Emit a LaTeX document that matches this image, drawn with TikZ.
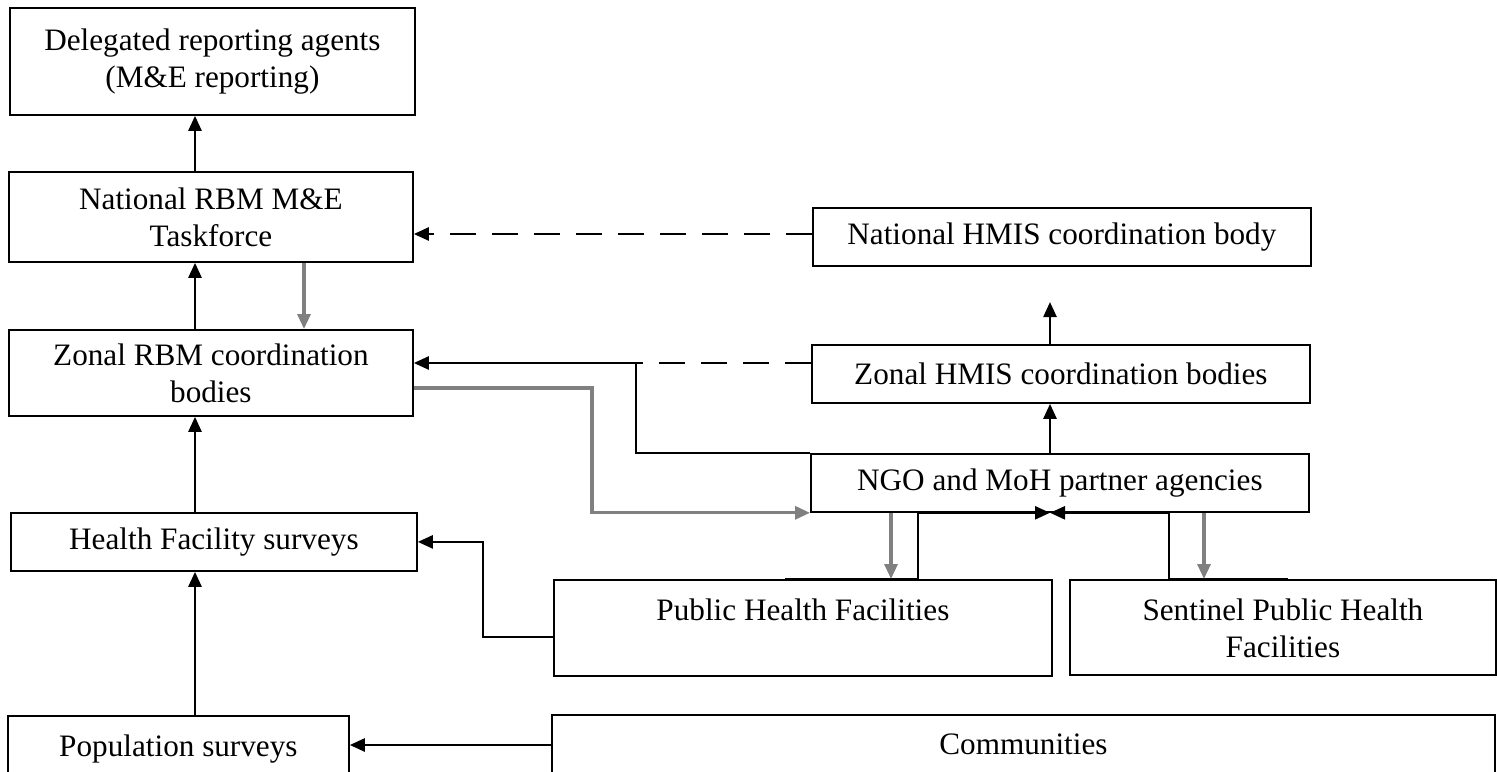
\documentclass[tikz,border=0pt]{standalone}
\usepackage{fontspec}
\setmainfont{Liberation Serif}
\usetikzlibrary{arrows.meta}
\definecolor{grayc}{RGB}{128,128,128}
\begin{document}
\begin{tikzpicture}[x=0.5pt,y=-0.5pt,
  box/.style={draw, line width=0.9pt, inner sep=0pt, anchor=north west, align=center,
    font=\fontsize{15.6}{18.5}\selectfont},
  toptext/.style={anchor=north, inner sep=0pt, align=center,
    font=\fontsize{15.6}{18.5}\selectfont, yshift=-9.8pt},
  arr/.style={line width=1.25pt, -{Triangle[length=7.5pt,width=6.5pt]}},
  garr/.style={line width=1.6pt, draw=grayc, -{Triangle[length=7.5pt,width=6.5pt,fill=grayc]}},
  dsh/.style={line width=1.25pt, dash pattern=on 13pt off 8pt},
]
\useasboundingbox (0,0) rectangle (1497,771);
\clip (0,0) rectangle (1497,771);

% boxes
\node[box, minimum width=202.5pt, minimum height=53.5pt] (del) at (9,7)
  {Delegated reporting agents\\(M\&E reporting)};
\node[box, minimum width=202pt, minimum height=45pt] (nrbm) at (8,171)
  {National RBM M\&E\\Taskforce};
\node[box, minimum width=202pt, minimum height=43pt] (zrbm) at (8,329)
  {Zonal RBM coordination\\bodies};
\node[box, minimum width=203pt, minimum height=29pt] (hfs) at (10,512)
  {Health Facility surveys};
\node[box, minimum width=170.5pt, minimum height=50pt,
  label={[toptext]north:Population surveys}] (pop) at (7,715) {};
\node[box, minimum width=249pt, minimum height=29pt] (nhmis) at (812,207)
  {National HMIS coordination body};
\node[box, minimum width=249pt, minimum height=29pt] (zhmis) at (811,344)
  {Zonal HMIS coordination bodies};
\node[box, minimum width=249pt, minimum height=29pt] (ngo) at (810,453)
  {NGO and MoH partner agencies};
\node[box, minimum width=249pt, minimum height=48pt,
  label={[toptext]north:Public Health Facilities}] (phf) at (553,579) {};
\node[box, minimum width=213pt, minimum height=47.5pt,
  label={[toptext]north:Sentinel Public Health\\Facilities}] (sphf) at (1069,579) {};
\node[box, minimum width=471.5pt, minimum height=50pt,
  label={[toptext]north:Communities}] (comm) at (551,714) {};

% helper coordinates
\coordinate (c1) at (195,0);
\coordinate (c2) at (304,0);
\coordinate (c3) at (1050,0);
\coordinate (y1) at (0,234);
\coordinate (y2) at (0,388);
\coordinate (yh) at (0,637);
\coordinate (yp) at (0,745);
\coordinate (jn) at (636,363);
\coordinate (gx) at (592,0);
\coordinate (hx) at (483,0);
\coordinate (xa) at (785,0);
\coordinate (xb) at (918,0);
\coordinate (xc) at (1169,0);
\coordinate (xd) at (1288,0);
\coordinate (xg1) at (891,0);
\coordinate (xg2) at (1204,0);
\coordinate (ztop) at (1050,302);

% left column
\draw[arr] (nrbm.north -| c1) -- (del.south -| c1);
\draw[arr] (zrbm.north -| c1) -- (nrbm.south -| c1);
\draw[garr] (nrbm.south -| c2) -- (zrbm.north -| c2);
\draw[arr] (hfs.north -| c1) -- (zrbm.south -| c1);
\draw[arr] (pop.north -| c1) -- (hfs.south -| c1);

% dashed links
\draw[dsh] (nhmis.west |- y1) -- ([xshift=5pt]nrbm.east |- y1);
\draw[arr] ([xshift=4.2pt]nrbm.east |- y1) -- (nrbm.east |- y1);
\draw[dsh] (zhmis.west |- jn) -- (jn);
\draw[arr] (ngo.north west) -| (jn) -- (zrbm.east |- jn);

% gray from zonal RBM to NGO
\draw[garr] (zrbm.east |- y2) -| (gx |- ngo.south west) -- (ngo.south west);

% right column
\draw[arr] (ngo.north -| c3) -- (zhmis.south -| c3);
\draw[arr] (zhmis.north -| c3) -- (ztop);
\draw[arr] (phf.north -| xa) -- (phf.north -| xb) -- (ngo.south -| xb) -- (ngo.south -| c3);
\draw[arr] (sphf.north -| xd) -- (sphf.north -| xc) -- (ngo.south -| xc) -- (ngo.south -| c3);
\draw[garr] (ngo.south -| xg1) -- (phf.north -| xg1);
\draw[garr] (ngo.south -| xg2) -- (sphf.north -| xg2);

% facilities to surveys
\draw[arr] (phf.west |- yh) -| (hx |- hfs.east) -- (hfs.east);
\draw[arr] (comm.west |- yp) -- (pop.east |- yp);
\end{tikzpicture}
\end{document}
